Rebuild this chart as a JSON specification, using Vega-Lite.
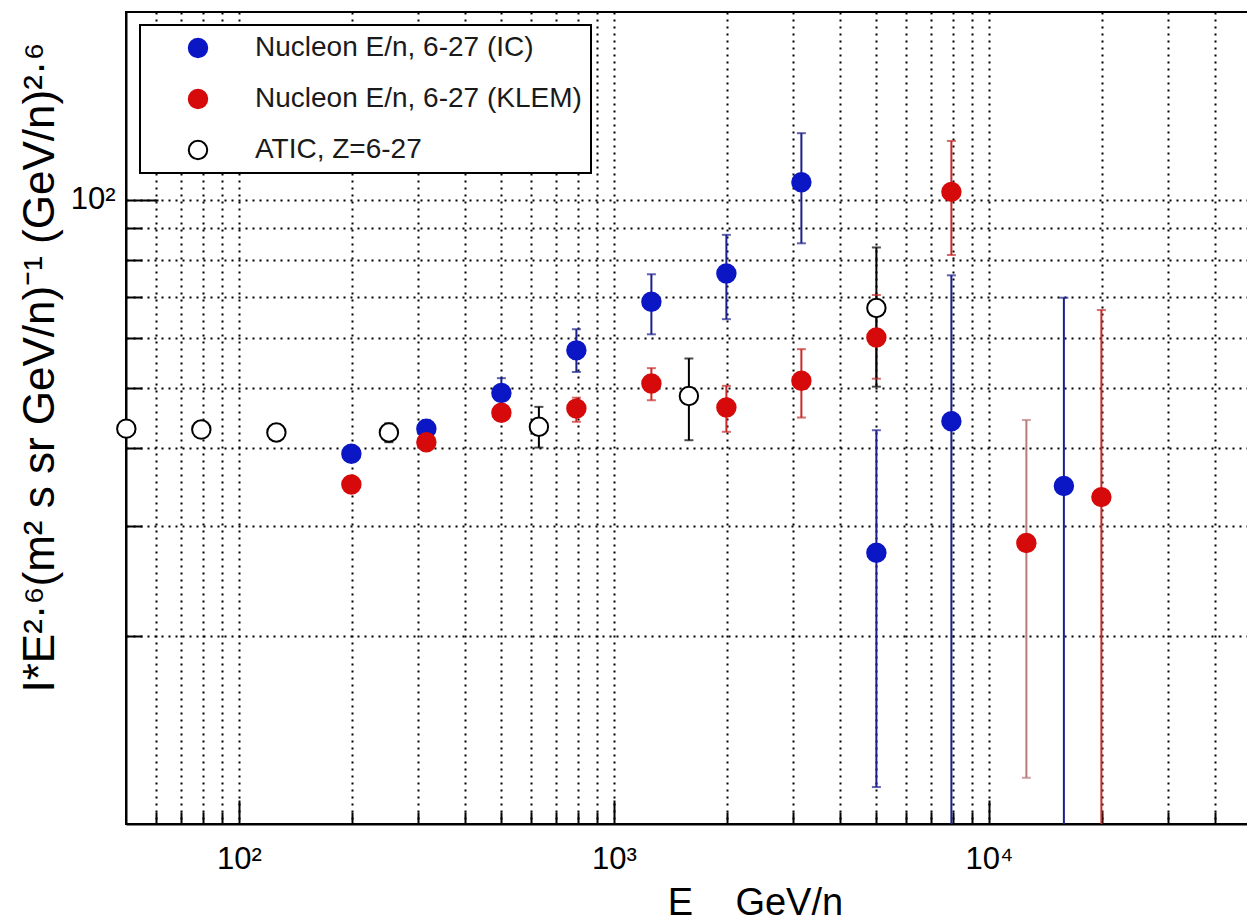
{
  "$schema": "https://vega.github.io/schema/vega-lite/v6.json",
  "width": 1125,
  "height": 812,
  "autosize": {"type": "none"},
  "padding": {"left": 126, "top": 12, "right": 0, "bottom": 98},
  "background": "white",
  "config": {
    "view": {"stroke": "black", "strokeWidth": 2},
    "font": "Liberation Sans",
    "legend": {"strokeWidth": 2}
  },
  "data": {
    "values": [
      {"series": "Nucleon E/n, 6-27 (IC)", "E": 199.5, "v": 39.2, "lo": 38.4, "hi": 40.0},
      {"series": "Nucleon E/n, 6-27 (IC)", "E": 316.2, "v": 43.0, "lo": 41.6, "hi": 44.4},
      {"series": "Nucleon E/n, 6-27 (IC)", "E": 501.2, "v": 49.05, "lo": 46.45, "hi": 51.8},
      {"series": "Nucleon E/n, 6-27 (IC)", "E": 794.3, "v": 57.4, "lo": 53.0, "hi": 62.05},
      {"series": "Nucleon E/n, 6-27 (IC)", "E": 1258.9, "v": 68.65, "lo": 60.9, "hi": 76.0},
      {"series": "Nucleon E/n, 6-27 (IC)", "E": 1995.3, "v": 76.2, "lo": 64.4, "hi": 87.9},
      {"series": "Nucleon E/n, 6-27 (IC)", "E": 3162.3, "v": 106.75, "lo": 85.2, "hi": 127.9},
      {"series": "Nucleon E/n, 6-27 (IC)", "E": 5011.9, "v": 27.2, "lo": 11.46, "hi": 42.75},
      {"series": "Nucleon E/n, 6-27 (IC)", "E": 7943.3, "v": 44.2, "lo": 5, "hi": 75.7},
      {"series": "Nucleon E/n, 6-27 (IC)", "E": 15848.9, "v": 34.8, "lo": 5, "hi": 69.7},
      {"series": "Nucleon E/n, 6-27 (KLEM)", "E": 199.5, "v": 35.0, "lo": 34.3, "hi": 35.7},
      {"series": "Nucleon E/n, 6-27 (KLEM)", "E": 316.2, "v": 40.9, "lo": 40.0, "hi": 41.8},
      {"series": "Nucleon E/n, 6-27 (KLEM)", "E": 501.2, "v": 45.6, "lo": 44.7, "hi": 46.5},
      {"series": "Nucleon E/n, 6-27 (KLEM)", "E": 794.3, "v": 46.3, "lo": 44.1, "hi": 48.2},
      {"series": "Nucleon E/n, 6-27 (KLEM)", "E": 1258.9, "v": 50.8, "lo": 47.75, "hi": 53.75},
      {"series": "Nucleon E/n, 6-27 (KLEM)", "E": 1995.3, "v": 46.5, "lo": 42.5, "hi": 50.35},
      {"series": "Nucleon E/n, 6-27 (KLEM)", "E": 3162.3, "v": 51.3, "lo": 44.8, "hi": 57.65},
      {"series": "Nucleon E/n, 6-27 (KLEM)", "E": 5011.9, "v": 60.2, "lo": 51.7, "hi": 70.4},
      {"series": "Nucleon E/n, 6-27 (KLEM)", "E": 7943.3, "v": 103.0, "lo": 81.6, "hi": 124.3},
      {"series": "Nucleon E/n, 6-27 (KLEM)", "E": 12589.3, "v": 28.2, "lo": 11.86, "hi": 44.4},
      {"series": "Nucleon E/n, 6-27 (KLEM)", "E": 19952.6, "v": 33.4, "lo": 5, "hi": 66.6},
      {"series": "ATIC, Z=6-27", "E": 50.1, "v": 43.0, "lo": 42.3, "hi": 43.7},
      {"series": "ATIC, Z=6-27", "E": 79.4, "v": 42.85, "lo": 42.1, "hi": 43.6},
      {"series": "ATIC, Z=6-27", "E": 125.9, "v": 42.4, "lo": 41.2, "hi": 43.7},
      {"series": "ATIC, Z=6-27", "E": 251.2, "v": 42.4, "lo": 40.9, "hi": 43.85},
      {"series": "ATIC, Z=6-27", "E": 631.0, "v": 43.3, "lo": 40.1, "hi": 46.6},
      {"series": "ATIC, Z=6-27", "E": 1584.9, "v": 48.5, "lo": 41.2, "hi": 55.7},
      {"series": "ATIC, Z=6-27", "E": 5011.9, "v": 67.1, "lo": 50.2, "hi": 83.9}
    ]
  },
  "encoding": {
    "x": {
      "field": "E",
      "type": "quantitative",
      "scale": {"type": "log", "domain": [50, 50000], "nice": false},
      "axis": {
        "values": [60, 70, 80, 90, 100, 200, 300, 400, 500, 600, 700, 800, 900, 1000, 2000, 3000, 4000, 5000, 6000, 7000, 8000, 9000, 10000, 20000, 30000, 40000],
        "labelExpr": "datum.value == 100 ? '10²' : datum.value == 1000 ? '10³' : datum.value == 10000 ? '10⁴' : ''",
        "labelFont": "Liberation Sans",
        "labelFontSize": 31,
        "labelColor": "black",
        "labelBaseline": "top",
        "labelPadding": 44,
        "labelFlush": false,
        "labelOverlap": false,
        "tickSize": {"condition": {"test": "datum.value == 100 || datum.value == 1000 || datum.value == 10000", "value": -24}, "value": -12},
        "tickColor": "black",
        "tickWidth": 2,
        "domainColor": "black",
        "domainWidth": 2,
        "grid": true,
        "gridColor": "black",
        "gridDash": [2, 5],
        "gridWidth": 2,
        "title": "E\u00a0\u00a0\u00a0\u00a0GeV/n",
        "titleFont": "Liberation Sans",
        "titleFontSize": 38,
        "titleFontWeight": "normal",
        "titleColor": "black",
        "titleX": 629,
        "titleY": 90,
        "titleAlign": "center",
        "titleBaseline": "alphabetic"
      }
    }
  },
  "layer": [
    {
      "mark": {"type": "rule", "clip": true, "strokeWidth": 2},
      "encoding": {
        "y": {
          "field": "lo",
          "type": "quantitative",
          "scale": {"type": "log", "domain": [10, 200], "nice": false},
          "axis": {
            "values": [20, 30, 40, 50, 60, 70, 80, 90, 100],
            "labelExpr": "datum.value == 100 ? '10²' : ''",
            "labelFont": "Liberation Sans",
            "labelFontSize": 31,
            "labelColor": "black",
            "labelPadding": 43,
            "labelOverlap": false,
            "labelFlush": false,
            "tickSize": {"condition": {"test": "datum.value == 100", "value": -32}, "value": -16},
            "tickColor": "black",
            "tickWidth": 2,
            "domainColor": "black",
            "domainWidth": 2,
            "grid": true,
            "gridColor": "black",
            "gridDash": [2, 5],
            "gridWidth": 2,
            "title": "I*E²·⁶(m² s sr GeV/n)⁻¹ (GeV/n)²·⁶",
            "titleFont": "Liberation Sans",
            "titleFontSize": 44,
            "titleFontWeight": "normal",
            "titleColor": "black",
            "titleAngle": -90,
            "titleX": -86,
            "titleY": 355,
            "titleAlign": "center",
            "titleBaseline": "middle"
          }
        },
        "y2": {"field": "hi"},
        "color": {
          "condition": {"test": "datum.E > 12000 && datum.E < 13000", "value": "#b97a7a"},
          "field": "series",
          "type": "nominal",
          "scale": {"domain": ["Nucleon E/n, 6-27 (IC)", "Nucleon E/n, 6-27 (KLEM)", "ATIC, Z=6-27"], "range": ["#1b1f8a", "#c82a28", "black"]},
          "legend": null
        }
      }
    },
    {
      "mark": {"type": "tick", "orient": "horizontal", "clip": true, "size": 9, "thickness": 2},
      "encoding": {
        "y": {"field": "lo", "type": "quantitative", "title": "I*E²·⁶(m² s sr GeV/n)⁻¹ (GeV/n)²·⁶"},
        "color": {
          "condition": {"test": "datum.E > 12000 && datum.E < 13000", "value": "#b97a7a"},
          "field": "series",
          "type": "nominal",
          "scale": {"domain": ["Nucleon E/n, 6-27 (IC)", "Nucleon E/n, 6-27 (KLEM)", "ATIC, Z=6-27"], "range": ["#1b1f8a", "#c82a28", "black"]},
          "legend": null
        }
      }
    },
    {
      "mark": {"type": "tick", "orient": "horizontal", "clip": true, "size": 9, "thickness": 2},
      "encoding": {
        "y": {"field": "hi", "type": "quantitative", "title": "I*E²·⁶(m² s sr GeV/n)⁻¹ (GeV/n)²·⁶"},
        "color": {
          "condition": {"test": "datum.E > 12000 && datum.E < 13000", "value": "#b97a7a"},
          "field": "series",
          "type": "nominal",
          "scale": {"domain": ["Nucleon E/n, 6-27 (IC)", "Nucleon E/n, 6-27 (KLEM)", "ATIC, Z=6-27"], "range": ["#1b1f8a", "#c82a28", "black"]},
          "legend": null
        }
      }
    },
    {
      "mark": {"type": "circle", "opacity": 1, "strokeWidth": 2},
      "encoding": {
        "y": {"field": "v", "type": "quantitative", "title": "I*E²·⁶(m² s sr GeV/n)⁻¹ (GeV/n)²·⁶"},
        "fill": {
          "field": "series",
          "type": "nominal",
          "scale": {"domain": ["Nucleon E/n, 6-27 (IC)", "Nucleon E/n, 6-27 (KLEM)", "ATIC, Z=6-27"], "range": ["#0b17c4", "#d60a0a", "white"]},
          "legend": {
            "title": null,
            "orient": "none",
            "legendX": 14,
            "legendY": 13,
            "padding": 9,
            "strokeColor": "black",
            "fillColor": "white",
            "labelFont": "Liberation Sans",
            "labelFontSize": 28,
            "labelColor": "#1a1a1a",
            "labelLimit": 0,
            "labelOffset": 43,
            "symbolOffset": 35,
            "rowPadding": 23,
            "symbolStrokeWidth": 2,
            "labelExpr": "datum.label + '\u00a0\u00a0'"
          }
        },
        "stroke": {
          "field": "series",
          "type": "nominal",
          "scale": {"domain": ["Nucleon E/n, 6-27 (IC)", "Nucleon E/n, 6-27 (KLEM)", "ATIC, Z=6-27"], "range": ["#0b17c4", "#d60a0a", "black"]}
        },
        "size": {
          "field": "series",
          "type": "ordinal",
          "scale": {"domain": ["Nucleon E/n, 6-27 (IC)", "Nucleon E/n, 6-27 (KLEM)", "ATIC, Z=6-27"], "range": [340, 340, 150]}
        }
      }
    }
  ],
  "resolve": {"scale": {"color": "independent"}}
}
